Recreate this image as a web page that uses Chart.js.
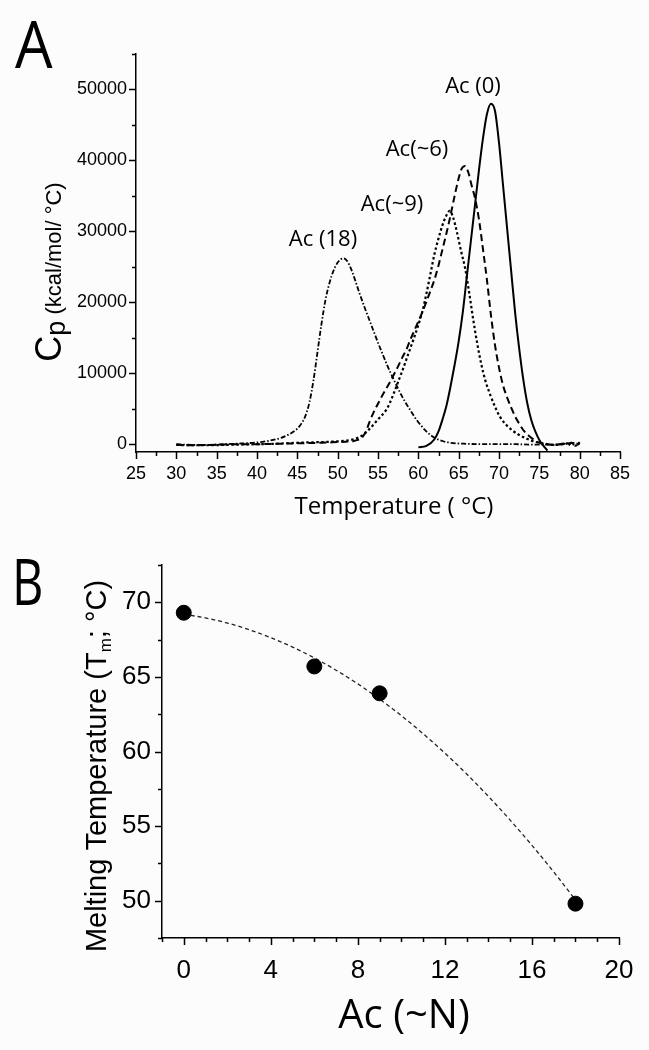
<!DOCTYPE html>
<html>
<head>
<meta charset="utf-8">
<script src="https://cdn.jsdelivr.net/npm/chart.js@4.4.1/dist/chart.umd.min.js"></script>
<style>
  html, body { margin:0; padding:0; background:#fcfcfc; }
  body { width:649px; height:1050px; position:relative; overflow:hidden; }
  canvas { position:absolute; left:0; }
  #cA { top:0; }
  #cB { top:520px; }
</style>
</head>
<body>
<canvas id="cA" width="649" height="520"></canvas>
<canvas id="cB" width="649" height="530"></canvas>
<script>
// ---------- Panel A data: DSC curves [Temperature (°C), Cp] ----------
const ac0 = [[60,-450],[61,-250],[62,700],[62.5,1800],[63,3500],[63.5,5500],[64,8200],[64.5,11200],[65,14500],[65.5,18500],[66,23500],[66.5,28500],[67,33500],[67.5,38500],[68,43000],[68.5,46500],[69,48000],[69.5,47000],[70,42500],[70.5,36500],[71,30500],[71.5,24500],[72,18500],[72.5,13500],[73,9200],[73.5,5800],[74,3400],[74.5,1800],[75,600],[75.5,-200],[76,-900]];
const ac6 = [[30,-100],[32,-150],[34,-100],[36,-50],[38,0],[40,0],[42,50],[44,100],[46,150],[48,200],[50,300],[51,350],[52,450],[52.5,600],[53,900],[53.5,1800],[54,3300],[54.5,4600],[55,5700],[55.5,6800],[56,7800],[56.5,8800],[57,9900],[57.5,11000],[58,12200],[58.5,13300],[59,14700],[59.5,16000],[60,17300],[60.5,18600],[61,20100],[61.5,21600],[62,23200],[62.5,25200],[63,27500],[63.5,29800],[64,32300],[64.5,35000],[65,37500],[65.4,38900],[65.8,39200],[66.2,38300],[66.6,36500],[67,34800],[67.5,31800],[68,27600],[68.5,23200],[69,18200],[69.5,14000],[70,10800],[70.5,8300],[71,6600],[71.5,5200],[72,3900],[72.5,2900],[73,2000],[73.5,1400],[74,900],[74.5,500],[75,200],[76,0],[77,-100],[78,100],[78.5,-200],[79,200],[79.5,-300],[80,300]];
const ac9 = [[30,-100],[32,-150],[34,-150],[36,-100],[38,-50],[40,0],[42,50],[44,150],[46,250],[48,300],[50,400],[51,500],[52,700],[53,1200],[54,2200],[55,3500],[56,4800],[56.5,5900],[57,7300],[57.5,8800],[58,10300],[58.5,11900],[59,13500],[59.5,15100],[60,16800],[60.5,18700],[61,21200],[61.5,24000],[62,26800],[62.5,29000],[63,30900],[63.5,32300],[63.9,32900],[64.3,32000],[64.8,29800],[65.3,27200],[65.8,24800],[66.3,21400],[66.8,17600],[67.3,14200],[67.8,11300],[68.3,9000],[68.9,7000],[69.5,5300],[70.1,3900],[71,2600],[71.7,1900],[72.5,1300],[73.4,800],[74,500],[75,200],[76,0],[77,-100],[78,0],[79,200],[79.5,-200],[80,200]];
const ac18 = [[30,0],[32,-100],[34,-100],[36,0],[38,100],[40,250],[41,400],[42,600],[43,900],[44,1400],[44.5,1750],[45,2200],[45.5,2900],[46,4000],[46.5,5900],[47,9000],[47.5,13000],[48,17000],[48.5,20400],[49,22800],[49.5,24500],[50,25600],[50.7,26200],[51.2,25800],[51.7,24600],[52.2,23000],[52.7,21300],[53.3,19400],[54,17300],[54.5,15800],[55,14300],[55.5,12900],[56,11500],[56.5,10200],[57,9000],[57.5,7800],[58,6700],[58.5,5700],[59,4800],[59.5,3900],[60,3100],[61,1800],[62,900],[63,450],[64,200],[66,50],[68,0],[70,0],[72,0],[74,-50],[76,-50],[78,0],[79,200],[80,0]];
const curveLabels = ['Ac (0)', 'Ac(~6)', 'Ac(~9)', 'Ac (18)'];

// Panel A ticks
const tempMajor = [25,30,35,40,45,50,55,60,65,70,75,80,85];
const tempMinor = [27.5,32.5,37.5,42.5,47.5,52.5,57.5,62.5,67.5,72.5,77.5,82.5];
const cpMajor = [0,10000,20000,30000,40000,50000];
const cpMinor = [5000,15000,25000,35000,45000,55000];

// ---------- Panel B data ----------
const acN = [0, 6, 9, 18];
const tm = [69.3, 65.7, 63.9, 49.8];
const fitX = [0,1,2,3,4,5,6,7,8,9,10,11,12,13,14,15,16,17,18];
const fitY = [69.2,68.95,68.61,68.17,67.63,67.0,66.27,65.45,64.53,63.51,62.4,61.19,59.89,58.49,56.99,55.4,53.71,51.93,50.05];

// Panel B ticks
const acMajor = [0,4,8,12,16,20];
const acMinor = [-1,1,2,3,5,6,7,9,10,11,13,14,15,17,18,19];
const tmMajor = [50,55,60,65,70];
const tmMinor = [47.5,52.5,57.5,62.5,67.5,72.5];

// ---------- helpers ----------
const ARIAL = "'Liberation Sans', Arial, sans-serif";
const MYRIAD = "'Open Sans', 'Noto Sans', sans-serif";
Chart.defaults.font.family = ARIAL;
Chart.defaults.color = '#000';

function pts(arr) { return arr.map(p => ({x: p[0], y: p[1]})); }
function setTicks(major, minor) {
  return function(scale) {
    scale.ticks = major.concat(minor).sort((a,b)=>a-b).map(v => ({value: v}));
  };
}
function labelIf(major) {
  return function(v) { return major.includes(v) ? String(v) : ''; };
}

const tickMarks = {
  id: 'tickMarks',
  afterDraw(chart, args, opts) {
    const ctx = chart.ctx;
    ctx.save();
    ctx.strokeStyle = '#000';
    ctx.lineWidth = opts.width;
    ['x','y'].forEach(id => {
      const s = chart.scales[id];
      const major = opts.major[id];
      s.ticks.forEach(t => {
        const len = major.includes(t.value) ? opts.majorLen : opts.minorLen;
        const p = Math.round(s.getPixelForValue(t.value)) + 0.5;
        ctx.beginPath();
        if (id === 'x') { ctx.moveTo(p, s.top); ctx.lineTo(p, s.top + len); }
        else { ctx.moveTo(s.right, p); ctx.lineTo(s.right - len, p); }
        ctx.stroke();
      });
    });
    ctx.restore();
  }
};

function drawRich(ctx, cx, cy, rot, segs, align) {
  ctx.save();
  ctx.translate(cx, cy);
  ctx.rotate(rot);
  ctx.textBaseline = 'alphabetic';
  ctx.textAlign = 'left';
  ctx.fillStyle = '#000';
  let total = 0;
  segs.forEach(s => { ctx.font = s.font; s.w = ctx.measureText(s.t).width * (s.sx || 1); total += s.w; });
  let x = align === 'left' ? 0 : -total / 2;
  segs.forEach(s => {
    ctx.font = s.font;
    ctx.save();
    ctx.translate(x, s.dy || 0);
    if (s.sx) ctx.scale(s.sx, 1);
    ctx.fillText(s.t, 0, 0);
    ctx.restore();
    x += s.w;
  });
  ctx.restore();
}

const textPlugin = {
  id: 'textPlugin',
  afterDraw(chart, args, opts) {
    opts.items.forEach(it => drawRich(chart.ctx, it.x, it.y, it.rot || 0, it.segs, it.align));
  }
};

// ---------- Chart A ----------
new Chart(document.getElementById('cA'), {
  type: 'scatter',
  data: {
    datasets: [
      { label: curveLabels[0], data: pts(ac0), borderColor: '#000', borderWidth: 2, showLine: true, pointRadius: 0, cubicInterpolationMode: 'monotone' },
      { label: curveLabels[1], data: pts(ac6), borderColor: '#000', borderWidth: 2, borderDash: [7,4], showLine: true, pointRadius: 0, cubicInterpolationMode: 'monotone' },
      { label: curveLabels[2], data: pts(ac9), borderColor: '#000', borderWidth: 2.2, borderDash: [2.5,2.5], showLine: true, pointRadius: 0, cubicInterpolationMode: 'monotone' },
      { label: curveLabels[3], data: pts(ac18), borderColor: '#000', borderWidth: 1.8, borderDash: [5,2,1.5,2], showLine: true, pointRadius: 0, cubicInterpolationMode: 'monotone' }
    ]
  },
  options: {
    responsive: false, animation: false, events: [],
    layout: { padding: { top: 54, right: 29, left: 0, bottom: 0 } },
    plugins: {
      legend: { display: false }, tooltip: { enabled: false },
      tickMarks: { width: 1.5, majorLen: 7, minorLen: 4, major: { x: tempMajor, y: cpMajor } },
      textPlugin: { items: [
        { x: 15, y: 68, align: 'left', segs: [{ t: 'A', font: `66px ${MYRIAD}`, sx: 0.9 }] },
        { x: 61, y: 272, rot: -Math.PI/2, segs: [
          { t: 'C', font: `36px ${ARIAL}` },
          { t: 'p', font: `27px ${ARIAL}`, dy: 4 },
          { t: ' (kcal/mol/ °C)', font: `22px ${ARIAL}` } ] },
        { x: 394, y: 514, segs: [{ t: 'Temperature ( °C)', font: `24px ${MYRIAD}` }] },
        { x: 473, y: 93, segs: [{ t: curveLabels[0], font: `22px ${MYRIAD}` }] },
        { x: 417, y: 156, segs: [{ t: curveLabels[1], font: `22px ${MYRIAD}` }] },
        { x: 392, y: 211, segs: [{ t: curveLabels[2], font: `22px ${MYRIAD}` }] },
        { x: 323, y: 246, segs: [{ t: curveLabels[3], font: `22px ${MYRIAD}` }] }
      ] }
    },
    scales: {
      x: {
        type: 'linear', position: 'bottom', min: 25, max: 85,
        afterBuildTicks: setTicks(tempMajor, tempMinor),
        afterFit: s => { s.height = 68; },
        grid: { display: false, drawTicks: true, tickLength: 7 },
        border: { display: true, color: '#000', width: 1.5 },
        ticks: { autoSkip: false, maxRotation: 0, padding: 4, font: { size: 18 }, color: '#000', callback: labelIf(tempMajor) }
      },
      y: {
        type: 'linear', position: 'left', min: -1100, max: 55000,
        afterBuildTicks: setTicks(cpMajor, cpMinor),
        afterFit: s => { s.width = 136; },
        grid: { display: false, drawTicks: true, tickLength: 7 },
        border: { display: true, color: '#000', width: 1.5 },
        ticks: { autoSkip: false, padding: 2, font: { size: 18 }, color: '#000', callback: labelIf(cpMajor) }
      }
    }
  },
  plugins: [tickMarks, textPlugin]
});

// ---------- Chart B ----------
new Chart(document.getElementById('cB'), {
  type: 'scatter',
  data: {
    datasets: [
      { label: 'Tm', data: acN.map((x,i) => ({x, y: tm[i]})), backgroundColor: '#000', borderColor: '#000', pointRadius: 7.5, showLine: false },
      { label: 'fit', data: fitX.map((x,i) => ({x, y: fitY[i]})), borderColor: '#222', borderWidth: 1.3, borderDash: [4,3], showLine: true, pointRadius: 0, cubicInterpolationMode: 'monotone' }
    ]
  },
  options: {
    responsive: false, animation: false, events: [],
    layout: { padding: { top: 45, right: 30, left: 0, bottom: 0 } },
    plugins: {
      legend: { display: false }, tooltip: { enabled: false },
      tickMarks: { width: 1.5, majorLen: 7, minorLen: 4, major: { x: acMajor, y: tmMajor } },
      textPlugin: { items: [
        { x: 12, y: 85, align: 'left', segs: [{ t: 'B', font: `64px ${MYRIAD}`, sx: 0.76 }] },
        { x: 106, y: 246, rot: -Math.PI/2, segs: [
          { t: 'Melting Temperature (T', font: `29px ${ARIAL}` },
          { t: 'm', font: `17px ${ARIAL}`, dy: 5 },
          { t: '; °C)', font: `29px ${ARIAL}` } ] },
        { x: 404, y: 508, segs: [{ t: 'Ac (~N)', font: `40px ${MYRIAD}` }] }
      ] }
    },
    scales: {
      x: {
        type: 'linear', position: 'bottom', min: -1, max: 20,
        afterBuildTicks: setTicks(acMajor, acMinor),
        afterFit: s => { s.height = 112; },
        grid: { display: false, drawTicks: true, tickLength: 7 },
        border: { display: true, color: '#000', width: 1.5 },
        ticks: { autoSkip: false, maxRotation: 0, padding: 10, font: { size: 26 }, color: '#000', callback: labelIf(acMajor) }
      },
      y: {
        type: 'linear', position: 'left', min: 47.5, max: 72.5,
        afterBuildTicks: setTicks(tmMajor, tmMinor),
        afterFit: s => { s.width = 162; },
        grid: { display: false, drawTicks: true, tickLength: 7 },
        border: { display: true, color: '#000', width: 1.5 },
        ticks: { autoSkip: false, padding: 4, font: { size: 26 }, color: '#000', callback: labelIf(tmMajor) }
      }
    }
  },
  plugins: [tickMarks, textPlugin]
});
</script>
</body>
</html>
